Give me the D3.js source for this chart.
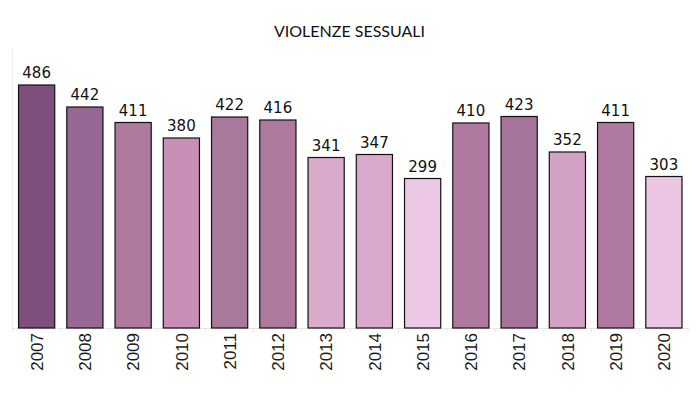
<!DOCTYPE html>
<html>
<head>
<meta charset="utf-8">
<script src="https://cdn.jsdelivr.net/npm/d3@7"></script>
<style>
  body { margin: 0; background: #fff; }
  svg { display: block; }
</style>
</head>
<body>
<div class="js-chart"></div>
<script>
const years = ['2007', '2008', '2009', '2010', '2011', '2012', '2013', '2014', '2015', '2016', '2017', '2018', '2019', '2020'];
const cases = [486, 442, 411, 380, 422, 416, 341, 347, 299, 410, 423, 352, 411, 303];
const barColors = ['#7e4e7c', '#976894', '#b07a9f', '#c78fb5', '#a8799a', '#ad7a9e', '#daaacb',
  '#d9a8ca', '#ecc8e4', '#b07a9e', '#a67498', '#d3a2c3', '#b07aa0', '#eac6e2'];
const title = 'VIOLENZE SESSUALI';

const WIDTH = 699;
const HEIGHT = 399;
const margin = {top: 49, right: 11, bottom: 71, left: 12.5};
const width = WIDTH - margin.left - margin.right;
const height = HEIGHT - margin.top - margin.bottom;

const svg = d3.select('.js-chart').append('svg')
  .attr('width', WIDTH)
  .attr('height', HEIGHT);

svg.append('text')
  .attr('x', WIDTH / 2)
  .attr('y', 37)
  .attr('text-anchor', 'middle')
  .style('font-family', 'Lato, sans-serif')
  .style('font-size', '16px')
  .style('fill', '#111')
  .text(title);

const chart = svg.append('g')
  .attr('transform', 'translate(' + margin.left + ',' + margin.top + ')');

// X and Y scales.
const xScale = d3.scaleBand()
  .domain(years)
  .range([0, width])
  .paddingInner(0.25)
  .paddingOuter(0.125);

const yScale = d3.scaleLinear()
  .domain([0, 558])
  .range([height, 0]);

// faint left axis line
chart.append('line')
  .attr('x1', 0).attr('x2', 0)
  .attr('y1', 0).attr('y2', height)
  .attr('stroke', '#eeeeee');

// bottom axis: ticks sit on the band boundaries
const xAxis = chart.append('g')
  .attr('class', 'x axis')
  .attr('transform', 'translate(0,' + height + ')')
  .call(d3.axisBottom(xScale).tickSize(0).tickPadding(5));

xAxis.select('.domain').attr('stroke', '#e6e6e6');
xAxis.selectAll('text')
  .attr('transform', 'rotate(-90)')
  .attr('x', -5)
  .attr('y', 0)
  .attr('dy', '0.36em')
  .attr('text-anchor', 'end')
  .style('font-family', '"Liberation Sans", Arial, sans-serif')
  .style('font-size', '17px')
  .style('fill', '#1a1a1a');

const step = xScale.step();
chart.append('g')
  .selectAll('line')
  .data(years.concat(['end']))
  .join('line')
  .attr('x1', (d, i) => i * step)
  .attr('x2', (d, i) => i * step)
  .attr('y1', height)
  .attr('y2', height + 4)
  .attr('stroke', '#e6e6e6');

// bars
chart.selectAll('.bar')
  .data(cases)
  .join('rect')
  .attr('class', 'bar')
  .attr('x', (d, i) => xScale(years[i]))
  .attr('y', d => yScale(d))
  .attr('width', xScale.bandwidth())
  .attr('height', d => height - yScale(d))
  .attr('fill', (d, i) => barColors[i])
  .attr('stroke', '#111')
  .attr('stroke-width', 1.2);

// value labels
chart.selectAll('.value')
  .data(cases)
  .join('text')
  .attr('class', 'value')
  .attr('x', (d, i) => xScale(years[i]) + xScale.bandwidth() / 2)
  .attr('y', d => yScale(d) - 7)
  .attr('text-anchor', 'middle')
  .style('font-family', '"DejaVu Sans", sans-serif')
  .style('font-size', '15px')
  .style('fill', '#111')
  .text(d => d);
</script>
</body>
</html>
